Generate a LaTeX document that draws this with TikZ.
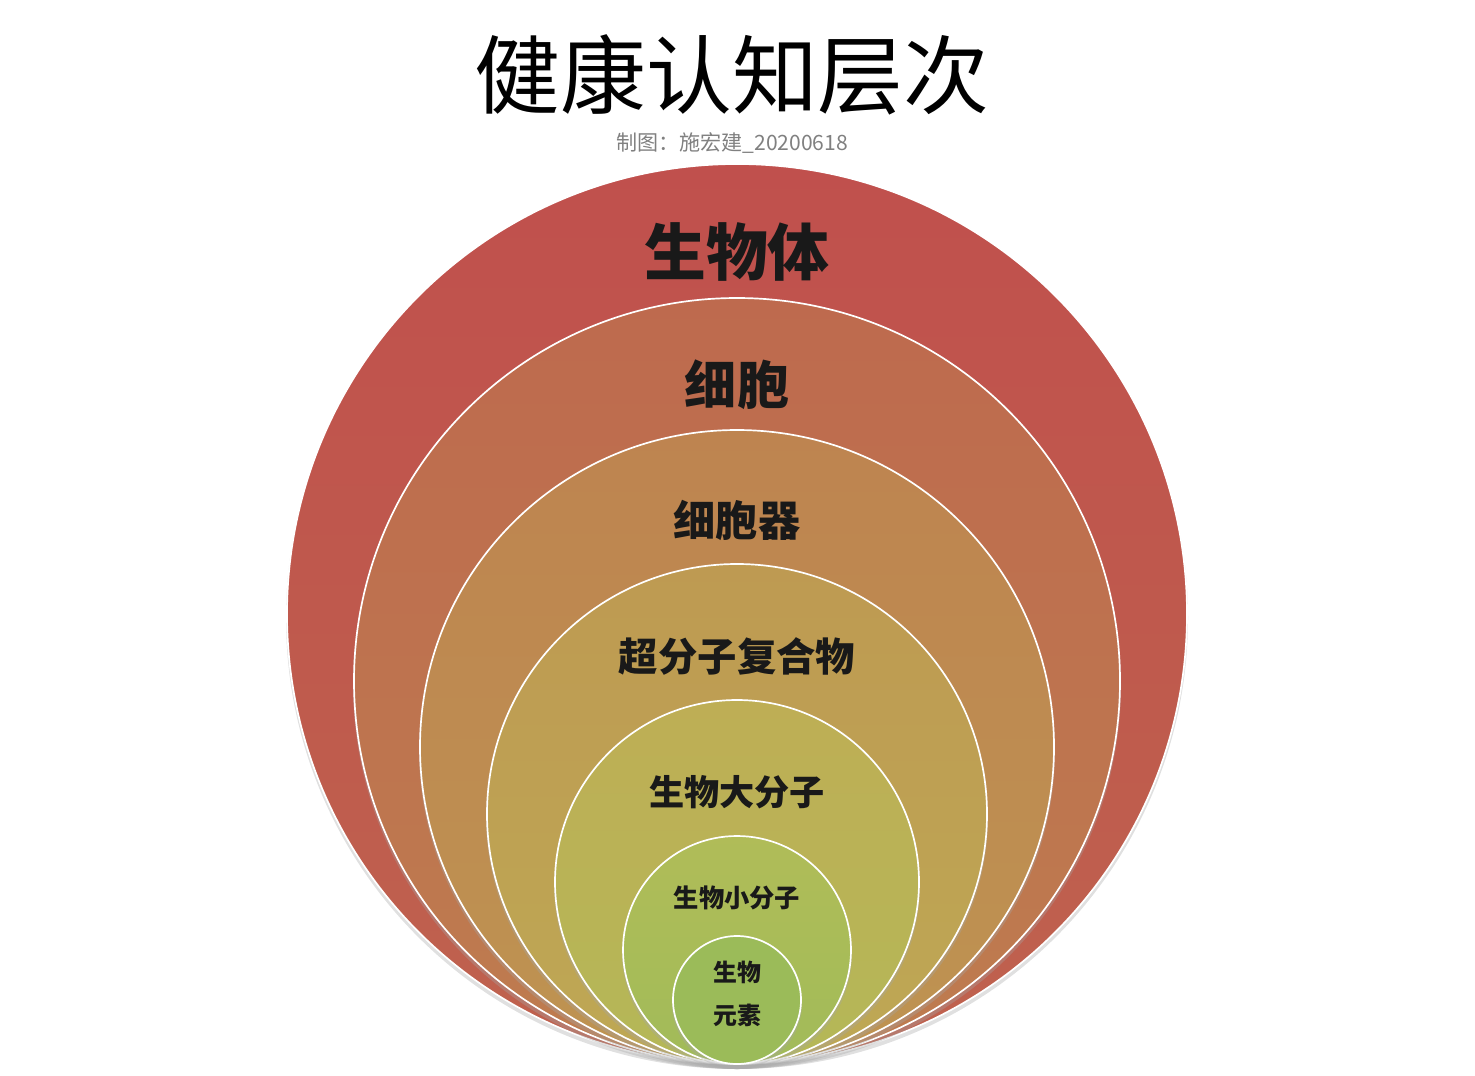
\documentclass[tikz,border=0pt]{standalone}
\usepackage{fontspec}
\newfontfamily\cjk{Noto Sans CJK SC}
\begin{document}
\begin{tikzpicture}[x=0.5mm,y=-0.5mm,
  ring/.style={draw=white,line width=2.4pt},
  shad/.style={fill=black!35,opacity=0.35},
  lab/.style={font=\cjk\bfseries,text=black!90}]
\useasboundingbox (0,0) rectangle (1475,1075);
\definecolor{c1}{HTML}{C0504D}\definecolor{c2}{HTML}{BE6A4E}
\definecolor{c3}{HTML}{BE8450}\definecolor{c4}{HTML}{BE9A52}
\definecolor{c5}{HTML}{BEAE55}\definecolor{c6}{HTML}{B0BC58}
\definecolor{c7}{HTML}{9BBB59}
\foreach \r/\ca/\cb [count=\i] in {450/c1/c2,383/c2/c3,317/c3/c4,250/c4/c5,182/c5/c6,114/c6/c7,64/c7/c7}{
  \fill[shad] (737,1068-\r) circle[radius=\r+1];
  \shade[top color=\ca,bottom color=\cb!70!\ca] (737,1064-\r) circle[radius=\r];
  \draw[ring] (737,1064-\r) circle[radius=\r];
}
\node[font=\cjk\fontsize{122}{130}\selectfont] (title) at (732,75) {健康认知层次};
\node[font=\cjk\fontsize{30}{34}\selectfont,text=gray] (sub) at (732,143) {制图：施宏建\_20200618};
\node[lab,font=\cjk\bfseries\fontsize{88}{90}\selectfont] (l1) at (737,252) {生物体};
\node[lab,font=\cjk\bfseries\fontsize{74}{76}\selectfont] (l2) at (737,385) {细胞};
\node[lab,font=\cjk\bfseries\fontsize{60}{62}\selectfont] (l3) at (737,520) {细胞器};
\node[lab,font=\cjk\bfseries\fontsize{56}{58}\selectfont] (l4) at (737,656) {超分子复合物};
\node[lab,font=\cjk\bfseries\fontsize{50}{52}\selectfont] (l5) at (737,792) {生物大分子};
\node[lab,font=\cjk\bfseries\fontsize{36}{38}\selectfont] (l6) at (737,898) {生物小分子};
\node[lab,font=\cjk\bfseries\fontsize{34}{62}\selectfont,align=center] (l7) at (737,994) {生物\\元素};
\end{tikzpicture}
\end{document}
